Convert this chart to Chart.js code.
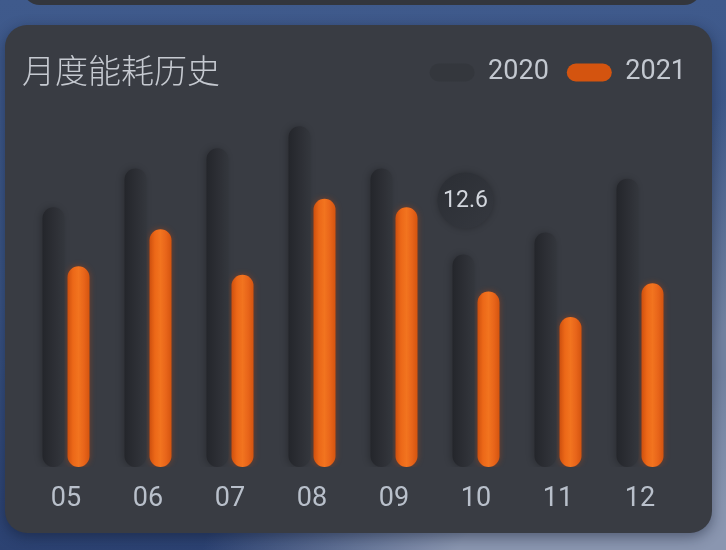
<!DOCTYPE html>
<html>
<head>
<meta charset="utf-8">
<script src="https://cdn.jsdelivr.net/npm/chart.js@4.4.0/dist/chart.umd.min.js"></script>
<style>
  html, body { margin: 0; width: 726px; height: 550px; overflow: hidden; }
  body {
    position: relative;
    background:
      radial-gradient(ellipse 420px 200px at 620px 570px, rgba(138,150,176,1) 40%, rgba(138,150,176,0) 100%),
      radial-gradient(ellipse 120px 360px at 750px 450px, rgba(115,130,160,1) 40%, rgba(115,130,160,0) 100%),
      linear-gradient(180deg, #3f5a8c 0%, #3a5484 55%, #2c4272 100%);
  }
  .prev {
    position: absolute; left: 22px; top: -30px; width: 680px; height: 35px;
    background: #33363d; border-radius: 0 0 18px 18px;
  }
  .card {
    position: absolute; left: 5px; top: 25px; width: 707px; height: 508px;
    border-radius: 22px; background: #393c43;
    box-shadow: 0 4px 14px rgba(10, 20, 40, 0.45);
  }
  .title {
    position: absolute; left: 17px; top: 28px; margin: 0;
    font: 300 33px/33px "Noto Sans CJK SC", sans-serif; color: #c6cad1;
  }
  #chart { position: absolute; left: 0; top: 0; }
</style>
</head>
<body>
<div class="prev"></div>
<div class="card">
  <canvas id="chart" width="707" height="508"></canvas>
  <h2 class="title">月度能耗历史</h2>
</div>
<script>
// 月份 + 两年的月度能耗
const months = ['05', '06', '07', '08', '09', '10', '11', '12'];
const data2020 = [15.4, 17.7, 18.9, 20.2, 17.7, 12.6, 13.9, 17.1];
const data2021 = [11.9, 14.1, 11.4, 15.9, 15.4, 10.4, 8.9, 10.9];
const markIndex = 5; // the bubble above 2020-10

const catPct = 0.61;
const barPct = 0.88;

// horizontal gradient for each bar, worked out from the x scale
function barFill(stops, side, flat) {
  return c => {
    const chart = c.chart;
    const xs = chart.scales && chart.scales.x;
    if (!xs || c.type !== 'data') return flat;
    const p0 = xs.getPixelForValue(0), p1 = xs.getPixelForValue(1);
    const px = xs.getPixelForValue(c.dataIndex);
    if (!isFinite(p0) || !isFinite(p1) || !isFinite(px)) return flat;
    const chunk = (p1 - p0) * catPct / 2;
    const cx = px + side * chunk / 2;
    const w = chunk * barPct / 2;
    const g = chart.ctx.createLinearGradient(cx - w, 0, cx + w, 0);
    stops.forEach((s, i) => g.addColorStop(i / (stops.length - 1), s));
    return g;
  };
}

const barShadow = {
  id: 'barShadow',
  beforeDatasetDraw(chart, args) {
    const ctx = chart.ctx;
    ctx.save();
    if (args.index === 1) {
      ctx.shadowColor = 'rgba(200, 70, 10, 0.45)';
      ctx.shadowBlur = 6;
    } else {
      ctx.shadowColor = 'rgba(0, 0, 0, 0.22)';
      ctx.shadowBlur = 6;
      ctx.shadowOffsetX = -2;
    }
  },
  afterDatasetDraw(chart) {
    chart.ctx.restore();
  }
};

const bubble = {
  id: 'bubble',
  afterDatasetsDraw(chart) {
    const bar = chart.getDatasetMeta(0).data[markIndex];
    if (!bar) return;
    const ctx = chart.ctx;
    const x = bar.x + 2, y = bar.y - 54;
    ctx.save();
    ctx.beginPath();
    ctx.arc(x, y, 28, 0, Math.PI * 2);
    const g = ctx.createLinearGradient(x - 28, y - 28, x + 28, y + 28);
    g.addColorStop(0, '#2b2e34');
    g.addColorStop(1, '#35383f');
    ctx.fillStyle = g;
    ctx.shadowColor = 'rgba(0,0,0,0.25)';
    ctx.shadowBlur = 6;
    ctx.fill();
    ctx.shadowColor = 'transparent';
    ctx.fillStyle = '#d3d7de';
    ctx.font = '23px Roboto, sans-serif';
    ctx.textAlign = 'center';
    ctx.textBaseline = 'middle';
    ctx.fillText(data2020[markIndex].toFixed(1), x, y + 1);
    ctx.restore();
  }
};

const chart = new Chart(document.getElementById('chart'), {
  type: 'bar',
  data: {
    labels: months,
    datasets: [
      {
        label: '2020',
        data: data2020,
        backgroundColor: barFill(['#24262b', '#2c2e34', '#34373d'], -1, '#2b2e34'),
        borderWidth: 0,
        borderRadius: 11,
        borderSkipped: false
      },
      {
        label: '2021',
        data: data2021,
        backgroundColor: barFill(['#cf500e', '#ec6818', '#f2741f', '#e8651a', '#d4540f'], 1, '#ef6b1b'),
        borderWidth: 0,
        borderRadius: 11,
        borderSkipped: false
      }
    ]
  },
  options: {
    responsive: false,
    animation: false,
    categoryPercentage: catPct,
    barPercentage: barPct,
    layout: { padding: { left: 20, right: 8, top: 16, bottom: 0 } },
    plugins: {
      legend: {
        position: 'top',
        align: 'end',
        labels: {
          boxWidth: 45,
          boxHeight: 18,
          useBorderRadius: true,
          borderRadius: 9,
          padding: 18,
          color: '#c3c8d0',
          font: { family: 'Roboto', size: 27 }
        }
      },
      tooltip: { enabled: false }
    },
    scales: {
      x: {
        grid: { display: false, drawTicks: false },
        border: { display: false },
        ticks: { color: '#b9c0cb', font: { family: 'Roboto', size: 27 }, padding: 16 },
        afterFit(s) { s.height = 66; }
      },
      y: {
        position: 'right',
        min: 0,
        max: 22,
        grid: { display: false },
        border: { display: false },
        ticks: { display: false },
        afterFit(s) { s.width = 23; }
      }
    }
  },
  plugins: [barShadow, bubble]
});
chart.update();
</script>
</body>
</html>
